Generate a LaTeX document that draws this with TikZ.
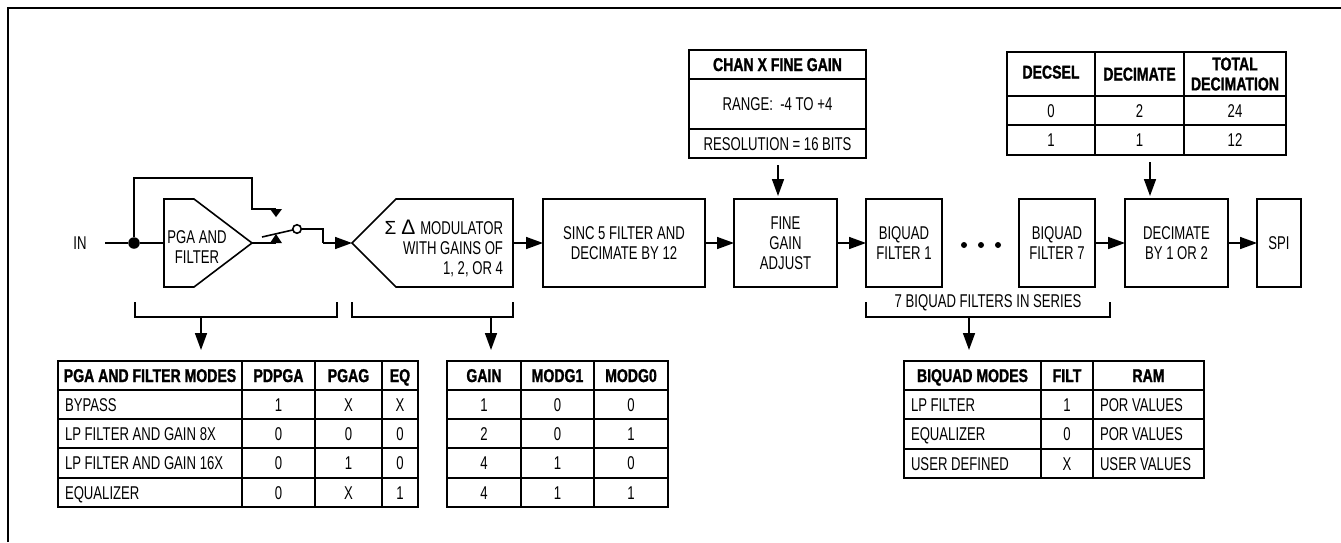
\documentclass[tikz,border=0pt]{standalone}
\usepackage{fontspec}
\setmainfont{Liberation Sans}[FakeStretch=0.71,BoldFeatures={FakeStretch=0.76,FakeBold=1.2}]
\newfontfamily\symf{Liberation Sans}
\usetikzlibrary{arrows.meta}
\newcommand{\fs}{\fontsize{18.5}{20}\selectfont}
\tikzset{
  x=1pt,y=-1pt,
  every node/.style={font=\fs,inner sep=0pt,outer sep=0pt},
  ln/.style={line width=1.6pt,line join=miter},
  block/.style={draw,ln,align=center,minimum height=88pt},
  wire/.style={ln},
  arr/.style={ln,-{Triangle[length=17pt,width=12pt]}},
  cell/.style={text height=13pt,text depth=0pt,anchor=center},
  cellL/.style={text height=13pt,text depth=0pt,anchor=west},
  head/.style={cell,font=\fs\bfseries},
  dot/.style={circle,fill=black,minimum size=11.5pt},
  dotsm/.style={circle,fill=black,minimum size=6pt},
  ring/.style={circle,draw,ln,fill=white,minimum size=8.5pt},
}
\begin{document}
\begin{tikzpicture}
\useasboundingbox (0,0) rectangle (1341,542);
\fill[white] (0,0) rectangle (1341,542);
\draw[line width=2.4pt] (8,542) -- (8,8) -- (1341,8);

% signal chain nodes
\node[minimum width=50pt,minimum height=16pt] (in) at (80,243) {IN};
\node[dot] (junc) at (134,243) {};
\draw[ln] (164,199) -- (194,199) -- (252,243) -- (194,287) -- (164,287) -- cycle;
\coordinate (pgain) at (164,243);
\coordinate (pgaout) at (252,243);
\node[align=center] (pgatext) at (197,247) {PGA AND\\FILTER};
\draw[ln] (352,243) -- (396,199) -- (513,199) -- (513,287) -- (396,287) -- cycle;
\coordinate (modin) at (352,243);
\coordinate (modout) at (513,243);
\node[align=right,anchor=east] (modtext) at (503,248) {{\symf\fontsize{19}{20}\selectfont Σ}\hspace{5pt}{\symf\fontsize{21}{20}\selectfont Δ}\hspace{5pt}MODULATOR\\WITH GAINS OF\\1, 2, OR 4\hspace{19pt}};
\node[block,minimum width=162pt] (sinc) at (624,243) {SINC 5 FILTER AND\\DECIMATE BY 12};
\node[block,minimum width=103pt] (fine) at (785.5,243) {FINE\\GAIN\\ADJUST};
\node[block,minimum width=76pt] (bq1) at (904,243) {BIQUAD\\FILTER 1};
\node[dotsm] (d1) at (964,245) {};
\node[dotsm] (d2) at (981,245) {};
\node[dotsm] (d3) at (998,245) {};
\node[block,minimum width=76pt] (bq7) at (1057,243) {BIQUAD\\FILTER 7};
\node[block,minimum width=103pt] (dec) at (1176.5,243) {DECIMATE\\BY 1 OR 2};
\node[block,minimum width=44pt] (spi) at (1279,243) {SPI};

% connectors
\draw[wire] (in.east) -- (junc) -- (pgain);
\coordinate (fb1) at (134,178);
\coordinate (fb2) at (252,178);
\coordinate (fb3) at (252,209);
\coordinate (fb4) at (276,209);
\draw[wire] (junc) -- (fb1) -- (fb2) -- (fb3) -- (fb4);
\coordinate (sw) at (276,243);
\draw[wire] (pgaout) -- (sw);
\fill (270,209) -- (282,209) -- (276,217) -- cycle;
\fill (270,243) -- (282,243) -- (276,234) -- cycle;
\node[ring] (pivot) at (297,229) {};
\coordinate (armend) at (262,237);
\draw[wire] (armend) -- (pivot);
\coordinate (sw1) at (323,229);
\coordinate (sw2) at (323,243);
\draw[wire] (pivot) -- (sw1) -- (sw2);
\draw[arr] (sw2) -- (modin);
\draw[arr] (modout) -- (sinc.west);
\draw[arr] (sinc.east) -- (fine.west);
\draw[arr] (fine.east) -- (bq1.west);
\draw[arr] (bq7.east) -- (dec.west);
\draw[arr] (dec.east) -- (spi.west);

% brackets
\draw[ln] (135,302) -- (135,317) -- (337,317) -- (337,302);
\coordinate (br1) at (201,317); \coordinate (tb1) at (201,350);
\draw[arr] (br1) -- (tb1);
\draw[ln] (352,302) -- (352,317) -- (513,317) -- (513,302);
\coordinate (br2) at (491,317); \coordinate (tb2) at (491,350);
\draw[arr] (br2) -- (tb2);
\draw[ln] (866,302) -- (866,317) -- (1110,317) -- (1110,302);
\coordinate (br3) at (969,317); \coordinate (tb3) at (969,350);
\draw[arr] (br3) -- (tb3);
\node (brtext) at (988,303) {7 BIQUAD FILTERS IN SERIES};

% fine gain table
\draw[ln] (689,50) rectangle (866,158);
\draw[ln] (689,79) -- (866,79) (689,129) -- (866,129);
\node[head] (fg1) at (777.5,64.5) {CHAN X FINE GAIN};
\node[cell] (fg2) at (777.5,104) {RANGE:\ \ -4 TO +4};
\node[cell] (fg3) at (777.5,143.5) {RESOLUTION = 16 BITS};
\coordinate (fgb) at (778,165);
\draw[arr] (fgb) -- (778,196);

% decimation table
\draw[ln] (1007,52) rectangle (1286,155);
\draw[ln] (1007,96) -- (1286,96) (1007,125) -- (1286,125) (1095,52) -- (1095,155) (1184,52) -- (1184,155);
\node[head] (dt1) at (1051,72) {DECSEL};
\node[head] (dt2) at (1139.5,74) {DECIMATE};
\node[font=\fs\bfseries,align=center] (dt3) at (1235,74) {TOTAL\\DECIMATION};
\foreach \y/\a/\b/\c [count=\r] in {110.5/0/2/24,140/1/1/12}{
  \node[cell] (dta\r) at (1051,\y) {\a};
  \node[cell] (dtb\r) at (1139.5,\y) {\b};
  \node[cell] (dtc\r) at (1235,\y) {\c};
}
\coordinate (dtb) at (1150,162);
\draw[arr] (dtb) -- (1150,196);

% PGA table
\draw[ln] (58,361) rectangle (418,507);
\draw[ln] (58,390) -- (418,390) (58,419) -- (418,419) (58,448) -- (418,448) (58,478) -- (418,478)
  (242,361) -- (242,507) (315,361) -- (315,507) (382,361) -- (382,507);
\node[head] (pgh1) at (150,375.5) {PGA AND FILTER MODES};
\node[head] (pgh2) at (278.5,375.5) {PDPGA};
\node[head] (pgh3) at (348.5,375.5) {PGAG};
\node[head] (pgh4) at (400,375.5) {EQ};
\foreach \y/\a/\b/\c/\d [count=\r] in {404.5/BYPASS/1/X/X,433.5/LP FILTER AND GAIN 8X/0/0/0,463/LP FILTER AND GAIN 16X/0/1/0,492.5/EQUALIZER/0/X/1}{
  \node[cellL] (pga\r) at (65,\y) {\a};
  \node[cell] (pgb\r) at (278.5,\y) {\b};
  \node[cell] (pgc\r) at (348.5,\y) {\c};
  \node[cell] (pgd\r) at (400,\y) {\d};
}

% gain table
\draw[ln] (447,361) rectangle (668,507);
\draw[ln] (447,390) -- (668,390) (447,419) -- (668,419) (447,448) -- (668,448) (447,478) -- (668,478)
  (521,361) -- (521,507) (594,361) -- (594,507);
\node[head] (gh1) at (484,375.5) {GAIN};
\node[head] (gh2) at (557.5,375.5) {MODG1};
\node[head] (gh3) at (631,375.5) {MODG0};
\foreach \y/\a/\b/\c [count=\r] in {404.5/1/0/0,433.5/2/0/1,463/4/1/0,492.5/4/1/1}{
  \node[cell] (ga\r) at (484,\y) {\a};
  \node[cell] (gb\r) at (557.5,\y) {\b};
  \node[cell] (gc\r) at (631,\y) {\c};
}

% biquad table
\draw[ln] (904,361) rectangle (1204,478);
\draw[ln] (904,390) -- (1204,390) (904,419) -- (1204,419) (904,449) -- (1204,449)
  (1041,361) -- (1041,478) (1093,361) -- (1093,478);
\node[head] (bh1) at (972.5,375.5) {BIQUAD MODES};
\node[head] (bh2) at (1067,375.5) {FILT};
\node[head] (bh3) at (1148.5,375.5) {RAM};
\foreach \y/\a/\b/\c [count=\r] in {404.5/LP FILTER/1/POR VALUES,434/EQUALIZER/0/POR VALUES,463.5/USER DEFINED/X/USER VALUES}{
  \node[cellL] (ba\r) at (911,\y) {\a};
  \node[cell] (bb\r) at (1067,\y) {\b};
  \node[cellL] (bc\r) at (1100,\y) {\c};
}
\end{tikzpicture}
\end{document}
